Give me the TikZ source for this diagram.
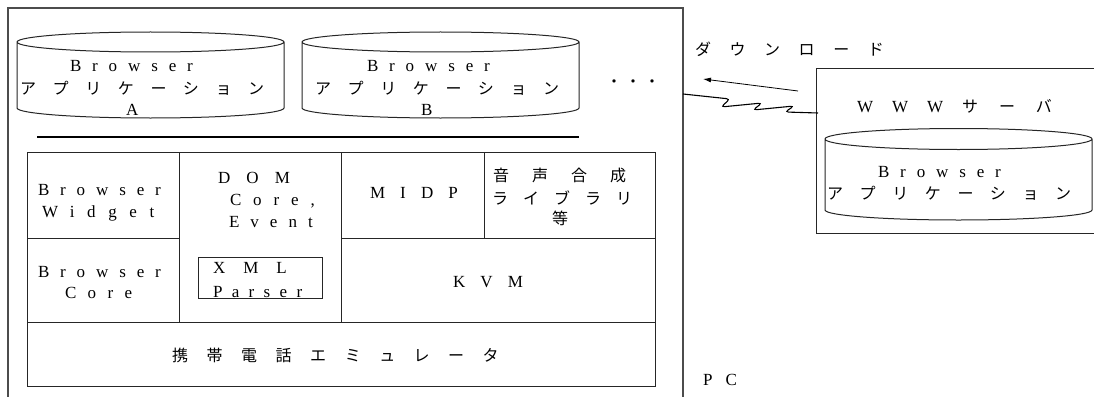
\documentclass[tikz,border=0pt]{standalone}
\usepackage{fontspec}
\setmainfont{Liberation Serif}
\newfontfamily\jpf{Noto Sans CJK JP}
\usetikzlibrary{arrows.meta}
\newcommand\LS[2]{{\fontsize{17}{20}\selectfont\addfontfeature{LetterSpace=#1}#2}}
\newcommand\JS[2]{{\jpf\fontsize{16}{19}\selectfont\addfontfeature{LetterSpace=#1}#2}}
\tikzset{
  txt/.style={anchor=base west, inner sep=0pt, outer sep=0pt},
  ln/.style={draw=black!85, line width=1pt},
  frame/.style={draw=black!70, line width=1.6pt},
}
\begin{document}
\begin{tikzpicture}[x=1pt, y=-1pt]
\clip (0,0) rectangle (1094,396);
\fill[white] (0,0) rectangle (1094,396);

% PC frame
\draw[frame] (8,420) -- (8,8) -- (683,8) -- (683,420);

% cylinders
\draw[ln] (17,42) arc[start angle=180, end angle=-180, x radius=133.5, y radius=10]
  (17,42) -- (17,108) arc[start angle=180, end angle=360, x radius=133.5, y radius=-10] -- (284,42);
\draw[ln] (302,42) arc[start angle=180, end angle=-180, x radius=138.5, y radius=10]
  (302,42) -- (302,108) arc[start angle=180, end angle=360, x radius=138.5, y radius=-10] -- (579,42);

\node[txt] (aBr) at (70,71) {\LS{64}{Browser}};
\node[txt] (aJa) at (20,94) {\JS{104}{アプリケーション}};
\node[txt] (aA) at (126,115) {\LS{0}{A}};
\node[txt] (bBr) at (367,71) {\LS{64}{Browser}};
\node[txt] (bJa) at (315,94) {\JS{104}{アプリケーション}};
\node[txt] (bB) at (421,115) {\LS{0}{B}};

\node[txt] (dots) at (606,88) {\JS{19}{・・・}};

% thick line
\draw[draw=black, line width=2.4pt] (37,137) -- (579,137);

% stack
\draw[ln] (27,152) rectangle (655,386);
\draw[ln] (27,238) -- (179,238);
\draw[ln] (341,238) -- (655,238);
\draw[ln] (27,322) -- (655,322);
\draw[ln] (179,152) -- (179,322);
\draw[ln] (341,152) -- (341,322);
\draw[ln] (484,152) -- (484,238);
\draw[ln] (198,257) rectangle (322,298);

\node[txt] (wBr) at (38,195) {\LS{64}{Browser}};
\node[txt] (wWi) at (42,217) {\LS{74}{Widget}};
\node[txt] (dDOM) at (218,183) {\LS{95}{DOM}};
\node[txt] (dCore) at (230,205) {\LS{70}{Core,}};
\node[txt] (dEv) at (229,227) {\LS{65}{Event}};
\node[txt] (xXML) at (213,273) {\LS{106}{XML}};
\node[txt] (xPar) at (213,297) {\LS{55}{Parser}};
\node[txt] (cBr) at (38,277) {\LS{64}{Browser}};
\node[txt] (cCore) at (65,298) {\LS{67}{Core}};
\node[txt] (mid) at (370,198) {\LS{89}{MIDP}};
\node[txt] (voi1) at (493,181) {\JS{144}{音声合成}};
\node[txt] (voi2) at (492,204) {\JS{94}{ライブラリ}};
\node[txt] (voi3) at (552,224) {\JS{0}{等}};
\node[txt] (kvm) at (453,287) {\LS{89}{KVM}};
\node[txt] (emu) at (172,361) {\JS{116}{携帯電話エミュレータ}};

\node[txt] (pc) at (703,385) {\LS{78}{PC}};

% download
\node[txt] (dl) at (695,56) {\JS{116}{ダウンロード}};
\coordinate (dlA) at (798,91);
\coordinate (dlB) at (703,79);
\draw[line width=0.8pt, -{Latex[length=8pt,width=5pt]}] (dlA) -- (dlB);

% server box
\draw[ln] (1100,68) -- (816,68) -- (816,233) -- (1100,233);
\node[txt] (www) at (857,112) {\LS{112}{WWW}\hspace{19pt}\JS{131}{サーバ}};
\draw[ln] (825,139) arc[start angle=180, end angle=-180, x radius=133.5, y radius=10.5]
  (825,139) -- (825,210) arc[start angle=180, end angle=360, x radius=133.5, y radius=-10] -- (1092,139);
\node[txt] (sBr) at (878,177) {\LS{64}{Browser}};
\node[txt] (sJa) at (827,199) {\JS{104}{アプリケーション}};

% zigzag link
\coordinate (z0) at (683,94);
\coordinate (z1) at (818,113);
\draw[line width=1.1pt, rounded corners=3.5pt] (z0) -- (730,99) -- (721,107) -- (762,103) -- (753,110) -- (794,106) -- (785,112) -- (z1);
\end{tikzpicture}
\end{document}
